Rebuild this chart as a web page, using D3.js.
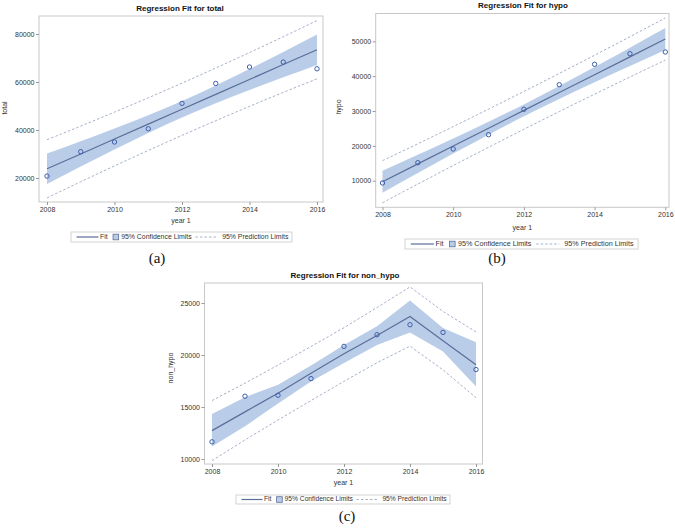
<!DOCTYPE html>
<html>
<head>
<meta charset="utf-8">
<script src="https://cdn.jsdelivr.net/npm/d3@7"></script>
<style>
html,body{margin:0;padding:0;background:#fff;}
svg{display:block;}
text{font-family:"Liberation Sans",Arial,sans-serif;}
</style>
</head>
<body>
<svg id="chart" width="675" height="528"></svg>
<script>
// ---------- data ----------
const years = [2008, 2009, 2010, 2011, 2012, 2013, 2014, 2015, 2016];
const xTickValues = [2008, 2010, 2012, 2014, 2016];

// (a) total
const totalObs  = [20800, 30960, 35000, 40500, 51100, 59400, 66250, 68300, 65500];
const totalFit  = [23830, 30030, 36240, 42440, 48650, 54850, 61050, 67260, 73460];
const totalCiLo = [17480, 24760, 31880, 38750, 45200, 51160, 56700, 61980, 67110];
const totalCiHi = [30180, 35310, 40590, 46130, 52090, 58540, 65410, 72540, 79810];
const totalPiLo = [11710, 18440, 25030, 31470, 37760, 43880, 49850, 55660, 61340];
const totalPiHi = [35950, 41630, 47450, 53410, 59530, 65820, 72260, 78860, 85590];
const totalYTicks = [20000, 40000, 60000, 80000];

// (b) hypo
const hypoObs  = [9340, 15170, 19100, 23200, 30490, 37550, 43400, 46440, 46930];
const hypoFit  = [9700, 14820, 19940, 25060, 30180, 35300, 40420, 45540, 50660];
const hypoCiLo = [6540, 12190, 17770, 23220, 28460, 33460, 38250, 42910, 47490];
const hypoCiHi = [12870, 17450, 22110, 26900, 31900, 37140, 42590, 48170, 53820];
const hypoPiLo = [3660, 9040, 14350, 19590, 24750, 29830, 34830, 39750, 44610];
const hypoPiHi = [15750, 20600, 25530, 30530, 35610, 40770, 46010, 51320, 56700];
const hypoYTicks = [10000, 20000, 30000, 40000, 50000];

// (c) non_hypo
const nonObs  = [11650, 16040, 16130, 17730, 20830, 21950, 22910, 22170, 18600];
const nonFit  = [12730, 14530, 16320, 18240, 20130, 21880, 23700, 21380, 19060];
const nonCiLo = [11190, 13150, 15330, 17440, 19220, 20970, 22160, 20330, 16960];
const nonCiHi = [14330, 15930, 17150, 18980, 20970, 22760, 25240, 22600, 21230];
const nonPiLo = [9850, 11830, 13750, 15620, 17470, 19260, 20850, 18570, 15900];
const nonPiHi = [15620, 17290, 19030, 20820, 22630, 24560, 26550, 24190, 22220];
const nonYTicks = [10000, 15000, 20000, 25000];

const legendLabels = ["Fit", "95% Confidence Limits", "95% Prediction Limits"];

// ---------- style ----------
const C = {
  band: "#b9cde8",
  fit: "#5b6e99",
  pt: "#3e5fab",
  pred: "#8f9cbd",
  frame: "#c8c8c8",
  text: "#333333",
  tick: "#9a9a9a"
};

const svg = d3.select("#chart");

function panel(cfg) {
  const g = svg.append("g");
  const x = d3.scaleLinear().domain([2008, 2016]).range(cfg.xr);
  const y = d3.scaleLinear().domain(cfg.yd).range(cfg.yr);
  const f = cfg.frame; // [l, t, r, b]

  g.append("rect").attr("x", f[0]).attr("y", f[1])
    .attr("width", f[2] - f[0]).attr("height", f[3] - f[1])
    .attr("fill", "#fff").attr("stroke", C.frame).attr("stroke-width", 1);

  const rows = years.map((yr, i) => ({
    yr, obs: cfg.obs[i], fit: cfg.fit[i], cl: cfg.cl[i], ch: cfg.ch[i], pl: cfg.pl[i], ph: cfg.ph[i]
  }));
  const curve = cfg.smooth ? d3.curveNatural : d3.curveLinear;

  g.append("path").datum(rows)
    .attr("d", d3.area().x(d => x(d.yr)).y0(d => y(d.cl)).y1(d => y(d.ch)).curve(curve))
    .attr("fill", C.band).attr("stroke", "none");

  ["pl", "ph"].forEach(k => {
    g.append("path").datum(rows)
      .attr("d", d3.line().x(d => x(d.yr)).y(d => y(d[k])).curve(curve))
      .attr("fill", "none").attr("stroke", C.pred).attr("stroke-width", 0.8)
      .attr("stroke-dasharray", "2.5,2");
  });

  g.append("path").datum(rows)
    .attr("d", d3.line().x(d => x(d.yr)).y(d => y(d.fit)))
    .attr("fill", "none").attr("stroke", C.fit).attr("stroke-width", 1.2);

  g.selectAll("circle.o").data(rows).enter().append("circle")
    .attr("cx", d => x(d.yr)).attr("cy", d => y(d.obs)).attr("r", 2.2)
    .attr("fill", "none").attr("stroke", C.pt).attr("stroke-width", 1);

  const ax = g.append("g").attr("transform", `translate(0,${f[3]})`)
    .call(d3.axisBottom(x).tickValues(xTickValues).tickSize(3).tickPadding(2).tickFormat(d3.format("d")));
  const ay = g.append("g").attr("transform", `translate(${f[0]},0)`)
    .call(d3.axisLeft(y).tickValues(cfg.yTicks).tickSize(3).tickPadding(1.5).tickFormat(d3.format("d")));
  [ax, ay].forEach(a => {
    a.select(".domain").remove();
    a.selectAll("line").attr("stroke", C.tick);
    a.selectAll("text").attr("fill", C.text).style("font-size", "7px")
      .style("font-family", "'Liberation Sans', Arial, sans-serif");
  });

  g.append("text").attr("x", cfg.titleX).attr("y", cfg.titleY)
    .attr("text-anchor", "middle").attr("dominant-baseline", "middle")
    .style("font-size", "8px").style("font-weight", "bold").attr("fill", "#111")
    .text(cfg.title);

  g.append("text").attr("x", (f[0] + f[2]) / 2).attr("y", cfg.xlabY)
    .attr("text-anchor", "middle").attr("dominant-baseline", "middle")
    .style("font-size", "7px").attr("fill", C.text).text("year 1");
  g.append("text").attr("transform", `translate(${cfg.ylabX},${cfg.ylabY}) rotate(-90)`)
    .attr("text-anchor", "middle").attr("dominant-baseline", "middle")
    .style("font-size", "7px").attr("fill", C.text).text(cfg.ylab);

  const L = cfg.legend;
  const lw = L[2] - L[0], cy = (L[1] + L[3]) / 2;
  const lg = g.append("g");
  lg.append("rect").attr("x", L[0]).attr("y", L[1]).attr("width", lw).attr("height", L[3] - L[1])
    .attr("fill", "#fff").attr("stroke", C.frame).attr("stroke-width", 0.8);
  const px = t => L[0] + t * lw;
  lg.append("line").attr("x1", px(0.025)).attr("x2", px(0.124)).attr("y1", cy).attr("y2", cy)
    .attr("stroke", C.fit).attr("stroke-width", 1.2);
  lg.append("text").attr("x", px(0.131)).attr("y", cy).attr("dominant-baseline", "middle")
    .style("font-size", cfg.lfs + "px").attr("fill", C.text).text(legendLabels[0]);
  lg.append("rect").attr("x", px(0.203) - 2.8).attr("y", cy - 2.8).attr("width", 5.6).attr("height", 5.6)
    .attr("fill", C.band).attr("stroke", C.fit).attr("stroke-width", 0.8);
  lg.append("text").attr("x", px(0.227)).attr("y", cy).attr("dominant-baseline", "middle")
    .style("font-size", cfg.lfs + "px").attr("fill", C.text).text(legendLabels[1]);
  lg.append("line").attr("x1", px(0.563)).attr("x2", px(0.662)).attr("y1", cy).attr("y2", cy)
    .attr("stroke", C.pred).attr("stroke-width", 0.8).attr("stroke-dasharray", "2.5,2");
  lg.append("text").attr("x", px(0.684)).attr("y", cy).attr("dominant-baseline", "middle")
    .style("font-size", cfg.lfs + "px").attr("fill", C.text).text(legendLabels[2]);

  g.append("text").attr("x", cfg.capX).attr("y", cfg.capY)
    .attr("text-anchor", "middle").attr("dominant-baseline", "middle")
    .style("font-family", "'Liberation Serif','Times New Roman',serif").style("font-size", "15px")
    .attr("fill", "#111").text(cfg.cap);
}

panel({
  title: "Regression Fit for total", ylab: "total", cap: "(a)",
  obs: totalObs, fit: totalFit, cl: totalCiLo, ch: totalCiHi, pl: totalPiLo, ph: totalPiHi,
  yTicks: totalYTicks, smooth: true,
  xr: [47, 317], yd: [10000, 87500], yr: [202, 16], frame: [39, 16, 323, 202],
  titleX: 180, titleY: 9, xlabY: 221, ylabX: 5, ylabY: 108,
  legend: [71, 232, 292, 242], lfs: 6.9, capX: 157, capY: 260
});

panel({
  title: "Regression Fit for hypo", ylab: "hypo", cap: "(b)",
  obs: hypoObs, fit: hypoFit, cl: hypoCiLo, ch: hypoCiHi, pl: hypoPiLo, ph: hypoPiHi,
  yTicks: hypoYTicks, smooth: true,
  xr: [382.5, 665.3], yd: [10000, 50000], yr: [180.7, 41.3], frame: [375.7, 13.5, 669, 207.3],
  titleX: 523, titleY: 6, xlabY: 228, ylabX: 339, ylabY: 107,
  legend: [405, 239, 638, 249], lfs: 7.2, capX: 497, capY: 260
});

panel({
  title: "Regression Fit for non_hypo", ylab: "non_hypo", cap: "(c)",
  obs: nonObs, fit: nonFit, cl: nonCiLo, ch: nonCiHi, pl: nonPiLo, ph: nonPiHi,
  yTicks: nonYTicks, smooth: false,
  xr: [212, 476], yd: [10000, 25000], yr: [459, 303], frame: [204.5, 283, 482.5, 464],
  titleX: 345, titleY: 275.5, xlabY: 483, ylabX: 171, ylabY: 368,
  legend: [236, 495, 450, 504], lfs: 6.7, capX: 347, capY: 518
});
</script>
</body>
</html>
